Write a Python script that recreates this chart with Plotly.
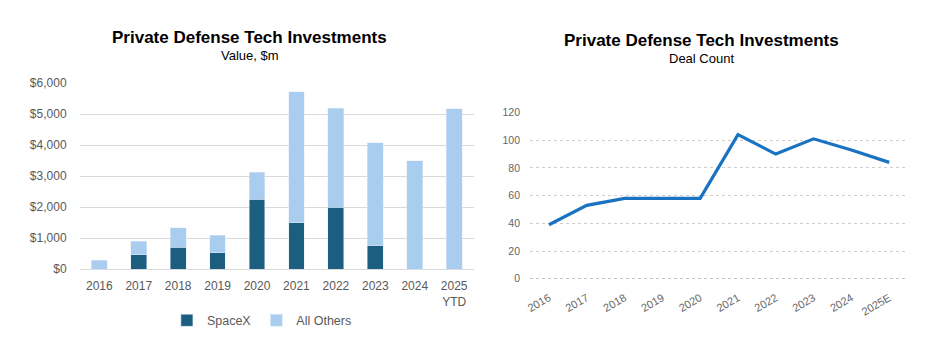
import plotly.graph_objects as go

years_value = ["2016", "2017", "2018", "2019", "2020", "2021", "2022", "2023", "2024", "2025<br>YTD"]
spacex = [0, 460, 700, 530, 2260, 1500, 1990, 760, 0, 0]
all_others_total = [290, 900, 1330, 1100, 3120, 5720, 5180, 4080, 3500, 5170]
all_others = [t - s for t, s in zip(all_others_total, spacex)]
value_ticks = [0, 1000, 2000, 3000, 4000, 5000, 6000]
value_tick_labels = ["$0", "$1,000", "$2,000", "$3,000", "$4,000", "$5,000", "$6,000"]

years_count = ["2016", "2017", "2018", "2019", "2020", "2021", "2022", "2023", "2024", "2025E"]
deal_count = [39, 53, 58, 58, 58, 104, 90, 101, 93, 84]
count_ticks = [0, 20, 40, 60, 80, 100, 120]

W, H = 936, 343
fig = go.Figure()

fig.add_trace(go.Bar(x=years_value, y=spacex, name="SpaceX", marker_color="#1b5e80",
                     width=0.4, xaxis="x", yaxis="y"))
fig.add_trace(go.Bar(x=years_value, y=all_others, name="All Others", marker_color="#a8cdee",
                     width=0.4, xaxis="x", yaxis="y"))
fig.add_trace(go.Scatter(x=years_count, y=deal_count, mode="lines", showlegend=False,
                         line=dict(color="#1a72c2", width=3.2), xaxis="x2", yaxis="y2"))

tick_font = dict(family="Liberation Sans Narrow, Liberation Sans, Arial", size=12, color="#595959")

fig.update_layout(
    width=W, height=H, barmode="stack",
    margin=dict(l=0, r=0, t=0, b=0),
    paper_bgcolor="white", plot_bgcolor="white",
    showlegend=True,
    legend=dict(orientation="h", x=259 / W, xanchor="center", y=1 - 327 / H, yanchor="middle",
                font=dict(family="Liberation Sans Narrow, Liberation Sans, Arial", size=12.5, color="#595959"),
                itemwidth=30, traceorder="normal"),
    xaxis=dict(domain=[75.9 / W, 471.9 / W], anchor="y", type="category",
               range=[-0.5, 9.5], showgrid=False, showline=False, ticks="",
               ticklabelstandoff=8, tickfont=tick_font),
    yaxis=dict(domain=[(H - 273.3) / H, (H - 79.3) / H], anchor="x", range=[0, 6000],
               tickvals=value_ticks, ticktext=value_tick_labels,
               showgrid=True, gridcolor="#d9d9d9", gridwidth=1, zeroline=True,
               zerolinecolor="#d9d9d9", zerolinewidth=1, showline=False, ticks="",
               ticklabelstandoff=12, tickfont=tick_font),
    xaxis2=dict(domain=[528.3 / W, 908 / W], anchor="y2", type="category",
                range=[-0.5, 9.5], showgrid=False, showline=False, ticks="",
                tickangle=-30, ticklabelstandoff=10,
                tickfont=dict(family="Liberation Sans, Arial", size=11, color="#666666")),
    yaxis2=dict(domain=[(H - 283.3) / H, (H - 110) / H], anchor="x2", range=[0, 120],
                tickvals=count_ticks,
                showgrid=True, gridcolor="#cfcfcf", gridwidth=1, griddash="dot",
                zeroline=False, showline=False, ticks="",
                ticklabelstandoff=9,
                tickfont=dict(family="Liberation Sans, Arial", size=10.5, color="#666666")),
)

fig.add_shape(type="line", xref="x2 domain", yref="y2", x0=0, x1=1, y0=0, y1=0,
              line=dict(color="#b0b0b0", width=1.5, dash="dot"))

title_font = dict(family="Liberation Sans, Arial", size=17, color="#000000")
sub_font = dict(family="Liberation Sans, Arial", size=13, color="#000000")
fig.add_annotation(text="<b>Private Defense Tech Investments</b>", x=247 / W, y=1 - 32 / H,
                   xref="paper", yref="paper", showarrow=False, font=title_font,
                   xanchor="center", yanchor="middle")
fig.add_annotation(text="Value, $m", x=247 / W, y=1 - 51 / H,
                   xref="paper", yref="paper", showarrow=False, font=sub_font,
                   xanchor="center", yanchor="middle")
fig.add_annotation(text="<b>Private Defense Tech Investments</b>", x=700 / W, y=1 - 35 / H,
                   xref="paper", yref="paper", showarrow=False, font=title_font,
                   xanchor="center", yanchor="middle")
fig.add_annotation(text="Deal Count", x=700 / W, y=1 - 54 / H,
                   xref="paper", yref="paper", showarrow=False, font=sub_font,
                   xanchor="center", yanchor="middle")

fig.write_html("out.html")
